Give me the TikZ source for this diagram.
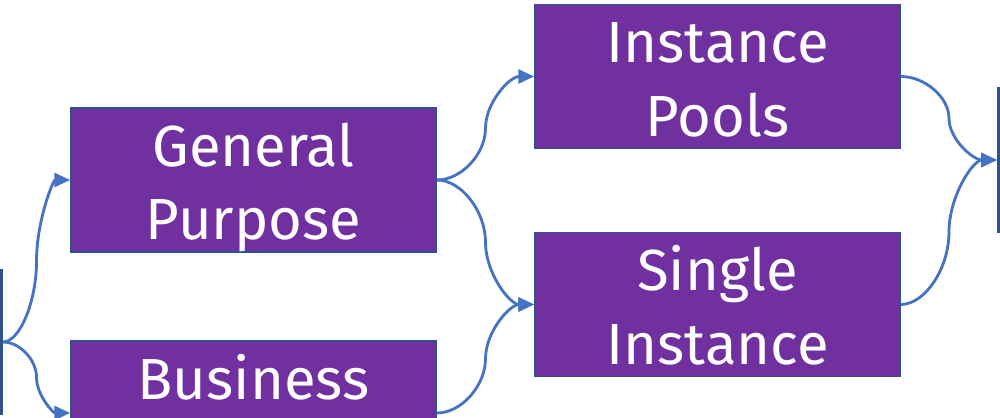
\documentclass[tikz,border=0pt]{standalone}
\usepackage{fontspec}
\setmainfont{Fira Sans}
\usetikzlibrary{arrows.meta,calc}
\definecolor{box_purple}{HTML}{7030A0}
\definecolor{box_edge}{HTML}{2F528F}
\definecolor{link_blue}{HTML}{4472C4}

\begin{document}
\begin{tikzpicture}[x=0.02cm, y=-0.02cm, >={Triangle[length=9pt,width=8pt]},
    stage/.style={draw=box_edge, line width=1.1pt, fill=box_purple, text=white,
      minimum width=7.3cm, minimum height=2.88cm, inner sep=0pt, align=center,
      font=\fontsize{33}{42}\selectfont, text height=2.64cm, text depth=0.24cm},
    side bar/.style={draw=box_edge, line width=1.7pt},
    link/.style={->, draw=link_blue, line width=1.6pt, to path={
      let \p1=(\tikztostart), \p2=(\tikztotarget) in
      .. controls ({0.75*\x1+0.25*\x2},\y1) and ({0.5*\x1+0.5*\x2},{0.75*\y1+0.25*\y2})
      .. ({0.5*\x1+0.5*\x2},{0.5*\y1+0.5*\y2})
      .. controls ({0.5*\x1+0.5*\x2},{0.25*\y1+0.75*\y2}) and ({0.25*\x1+0.75*\x2},\y2)
      .. (\p2) \tikztonodes}}]

    \useasboundingbox (0,0) rectangle (1000,418);
    \clip (0,0) rectangle (1000,418);

    % edges of the shapes that lie outside the view
    \draw[side bar] (1.5,269) -- (1.5,415);
    \draw[side bar] (998.5,87) -- (998.5,233);
    \coordinate (in) at (3,342);
    \coordinate (out) at (997,160);

    \node[stage] (gp) at (253.5,180) {General\\Purpose};
    \node[stage] (biz) at (253.5,413) {Business\\\mbox{}};
    \node[stage] (ip) at (717.5,76.5) {Instance\\Pools};
    \node[stage] (si) at (717.5,304.5) {Single\\Instance};

    \draw[link] (in) to (gp.west);
    \draw[link] (in) to (biz.west);
    \draw[link] (gp.east) to (ip.west);
    \draw[link] (gp.east) to (si.west);
    \draw[link] (biz.east) to (si.west);
    \draw[link] (ip.east) to (out);
    \draw[link] (si.east) to (out);

  \end{tikzpicture}
\end{document}
